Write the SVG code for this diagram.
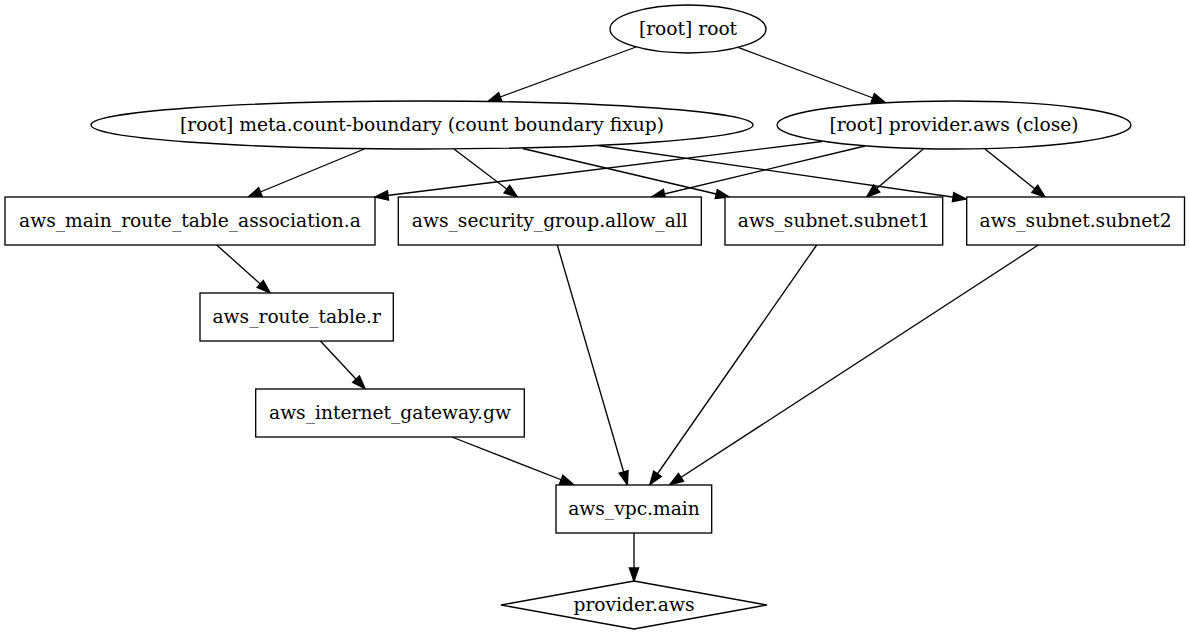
<svg xmlns="http://www.w3.org/2000/svg" width="1189" height="635" viewBox="0 0 1189 635">
<defs>
<style>
.node ellipse, .node rect, .node polygon { fill: #ffffff; stroke: #000000; stroke-width: 1.33; }
.node text { font-family: "DejaVu Serif", "Liberation Serif", serif; font-size: 18.67px; fill: #000000; text-anchor: middle; }
#edges line { stroke: #000000; stroke-width: 1.33; fill: none; marker-end: url(#arrow); }
</style>
<marker id="arrow" markerUnits="userSpaceOnUse" markerWidth="16" markerHeight="12" refX="13.1" refY="4.67" orient="auto" overflow="visible">
<path d="M0,0 L13.33,4.67 L0,9.33 Z" fill="#000000" stroke="#000000" stroke-width="1.33" stroke-linejoin="miter"/>
</marker>
</defs>
<rect x="0" y="0" width="1189" height="635" fill="#ffffff"/>
<g id="edges">
<line x1="636" y1="47" x2="488" y2="101.5"/>
<line x1="738" y1="47.4" x2="885" y2="102.5"/>
<line x1="364.3" y1="149" x2="248.3" y2="197"/>
<line x1="454" y1="149" x2="517.3" y2="197"/>
<line x1="522.7" y1="148.5" x2="729" y2="197"/>
<line x1="598" y1="145.5" x2="966" y2="199"/>
<line x1="822" y1="141.5" x2="375" y2="197"/>
<line x1="865" y1="146" x2="651.7" y2="197"/>
<line x1="923.3" y1="149" x2="866.7" y2="197"/>
<line x1="985" y1="149" x2="1045" y2="197"/>
<line x1="216.7" y1="245" x2="270" y2="292.7"/>
<line x1="320.4" y1="341" x2="365" y2="388.7"/>
<line x1="452" y1="437" x2="573.3" y2="484.5"/>
<line x1="557.3" y1="245" x2="627.3" y2="484.5"/>
<line x1="816.7" y1="245" x2="650" y2="484.5"/>
<line x1="1038.3" y1="245" x2="670" y2="484.5"/>
<line x1="634" y1="533" x2="634" y2="581"/>
</g>
<g id="node-root" class="node">
<ellipse cx="688" cy="29" rx="78" ry="24"/>
<text x="688" y="35">[root] root</text>
</g>
<g id="node-meta" class="node">
<ellipse cx="422" cy="125" rx="331" ry="24"/>
<text x="422" y="131">[root] meta.count-boundary (count boundary fixup)</text>
</g>
<g id="node-provider-close" class="node">
<ellipse cx="954" cy="125" rx="177" ry="24"/>
<text x="954" y="131">[root] provider.aws (close)</text>
</g>
<g id="node-main-rta" class="node">
<rect x="5" y="197" width="370" height="48"/>
<text x="190" y="227">aws_main_route_table_association.a</text>
</g>
<g id="node-sg" class="node">
<rect x="398.3" y="197" width="303" height="48"/>
<text x="549.8" y="227">aws_security_group.allow_all</text>
</g>
<g id="node-subnet1" class="node">
<rect x="725" y="197" width="217.7" height="48"/>
<text x="833.8" y="227">aws_subnet.subnet1</text>
</g>
<g id="node-subnet2" class="node">
<rect x="966.7" y="197" width="217.8" height="48"/>
<text x="1075.6" y="227">aws_subnet.subnet2</text>
</g>
<g id="node-route-table" class="node">
<rect x="200" y="293" width="193.3" height="48"/>
<text x="296.7" y="323">aws_route_table.r</text>
</g>
<g id="node-igw" class="node">
<rect x="255.7" y="389" width="268.6" height="48"/>
<text x="390" y="419">aws_internet_gateway.gw</text>
</g>
<g id="node-vpc" class="node">
<rect x="556" y="485" width="155.7" height="48"/>
<text x="634" y="515">aws_vpc.main</text>
</g>
<g id="node-provider" class="node">
<polygon points="634,581 767,605 634,629 501,605"/>
<text x="634" y="611">provider.aws</text>
</g>
</svg>
